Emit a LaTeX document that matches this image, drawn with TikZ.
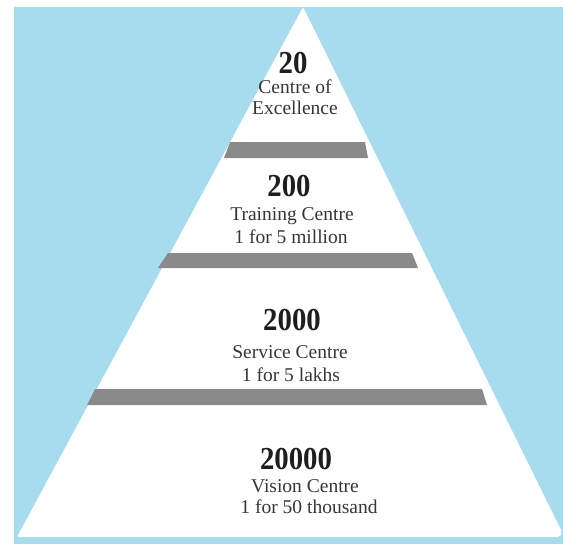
\documentclass[tikz,border=0pt]{standalone}
\usepackage{fontspec}
\setmainfont{Liberation Serif}
\newfontfamily\numfont[FakeStretch=0.9]{Liberation Serif}
\definecolor{skyb}{RGB}{166,220,237}
\definecolor{bandgray}{RGB}{138,138,138}
\definecolor{txtdark}{RGB}{30,30,30}
\definecolor{txtsoft}{RGB}{55,55,55}
\begin{document}
\begin{tikzpicture}[x=1pt,y=-1pt,
  numlabel/.style={anchor=base,inner sep=0pt,text=txtdark,font=\numfont\bfseries\fontsize{32}{32}\selectfont},
  smalllabel/.style={anchor=base,inner sep=0pt,text=txtsoft,font=\fontsize{19.5}{19.5}\selectfont},
  bandbar/.style={fill=bandgray,draw=none}]
\useasboundingbox (0,0) rectangle (563,544);
\fill[white] (0,0) rectangle (563,544);
\fill[skyb] (14,7) rectangle (563,544);
% pyramid
\fill[white,rounded corners=2pt] (303,7) -- (562,532) -- (560,537) -- (17,537) -- cycle;
% bands
\fill[bandbar] (230,142) -- (365,142) -- (368,158) -- (224,158) -- cycle;
\fill[bandbar] (168,253) -- (412,253) -- (418,268) -- (158,268) -- cycle;
\fill[bandbar] (95,389) -- (482,389) -- (487,405) -- (87,405) -- cycle;
% texts
\node[numlabel] (n1) at (293,73) {20};
\node[smalllabel] (t1a) at (295,93) {Centre of};
\node[smalllabel] (t1b) at (295,114) {Excellence};
\node[numlabel] (n2) at (289,196) {200};
\node[smalllabel] (t2a) at (292,220) {Training Centre};
\node[smalllabel] (t2b) at (291,243) {1 for 5 million};
\node[numlabel] (n3) at (292,330) {2000};
\node[smalllabel] (t3a) at (290,358) {Service Centre};
\node[smalllabel] (t3b) at (291,381) {1 for 5 lakhs};
\node[numlabel] (n4) at (296,469) {20000};
\node[smalllabel] (t4a) at (305,492) {Vision Centre};
\node[smalllabel] (t4b) at (309,513) {1 for 50 thousand};
\end{tikzpicture}
\end{document}
